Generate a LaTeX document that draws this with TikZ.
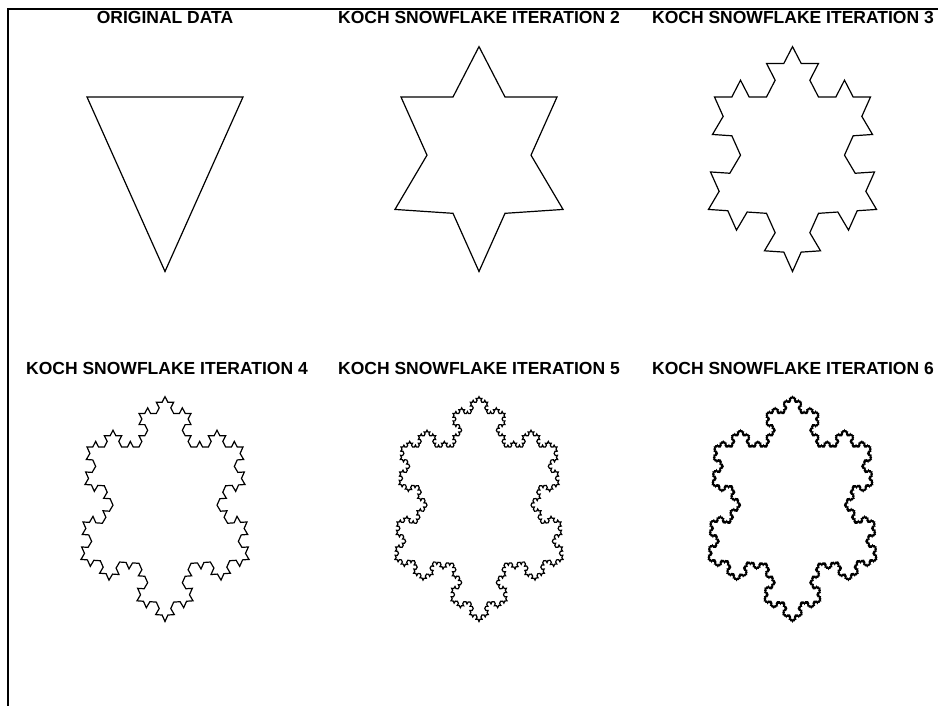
\documentclass[tikz,border=0pt]{standalone}
\usepackage{fontspec}
\setmainfont{Liberation Sans}

% recursive Koch segment, coordinates in data units (pt), left-hand bumps
\newcommand\kochseg[5]{%
  \ifnum#1=0
    \pgfpathlineto{\pgfqpoint{#4pt}{#5pt}}%
    \let\kochnext\relax
  \else
    \pgfmathsetmacro\kdx{(#4)-(#2)}%
    \pgfmathsetmacro\kdy{(#5)-(#3)}%
    \pgfmathsetmacro\kax{(#2)+(\kdx)/3}%
    \pgfmathsetmacro\kay{(#3)+(\kdy)/3}%
    \pgfmathsetmacro\kbx{(#2)+2*(\kdx)/3}%
    \pgfmathsetmacro\kby{(#3)+2*(\kdy)/3}%
    \pgfmathsetmacro\kpx{((#2)+(#4))/2-0.2886751*(\kdy)}%
    \pgfmathsetmacro\kpy{((#3)+(#5))/2+0.2886751*(\kdx)}%
    \edef\kochnext{%
      \noexpand\kochseg{\the\numexpr#1-1\relax}{#2}{#3}{\kax}{\kay}%
      \noexpand\kochseg{\the\numexpr#1-1\relax}{\kax}{\kay}{\kpx}{\kpy}%
      \noexpand\kochseg{\the\numexpr#1-1\relax}{\kpx}{\kpy}{\kbx}{\kby}%
      \noexpand\kochseg{\the\numexpr#1-1\relax}{\kbx}{\kby}{#4}{#5}}%
  \fi
  \kochnext}

\newcommand\snowflake[3]{%
  \begin{scope}[shift={(#2,#3)}, xscale=1.56, yscale=1.745, flake]
    \pgfpathmoveto{\pgfqpoint{-50pt}{50pt}}%
    \kochseg{#1}{-50}{50}{50}{50}%
    \kochseg{#1}{50}{50}{0}{-50}%
    \kochseg{#1}{0}{-50}{-50}{50}%
    \pgfpathclose
    \pgfusepath{stroke}%
  \end{scope}}

\tikzset{
  flake/.style={line width=1.2pt},
  paneltitle/.style={anchor=base, inner sep=0pt, font=\bfseries\fontsize{17.5}{20}\selectfont},
  frame/.style={line width=1.2pt}
}

\begin{document}
\begin{tikzpicture}[x=1pt, y=-1pt]
  \useasboundingbox (0,0) rectangle (938,706);
  \fill[white] (0,0) rectangle (938,706);
  \draw[frame] (8,706) -- (8,9) -- (938,9);

  \node[paneltitle] (t1) at (165,24) {ORIGINAL DATA};
  \node[paneltitle] (t2) at (479,24) {KOCH SNOWFLAKE ITERATION 2};
  \node[paneltitle] (t3) at (793,24) {KOCH SNOWFLAKE ITERATION 3};
  \node[paneltitle] (t4) at (167,374) {KOCH SNOWFLAKE ITERATION 4};
  \node[paneltitle] (t5) at (479,374) {KOCH SNOWFLAKE ITERATION 5};
  \node[paneltitle] (t6) at (793,374) {KOCH SNOWFLAKE ITERATION 6};

  \snowflake{0}{165}{184.25}
  \snowflake{1}{479}{184.25}
  \snowflake{2}{792.5}{184.25}
  \snowflake{3}{165}{534.25}
  \snowflake{4}{479}{534.25}
  \snowflake{5}{792.5}{534.25}
\end{tikzpicture}
\end{document}
